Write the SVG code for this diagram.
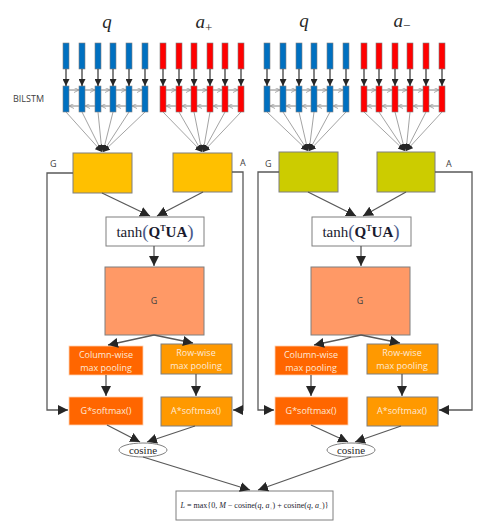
<svg xmlns="http://www.w3.org/2000/svg" width="500" height="526" viewBox="0 0 500 526">
<defs>
<marker id="ah" markerUnits="userSpaceOnUse" markerWidth="10" markerHeight="10" viewBox="0 0 10 10" refX="10" refY="5" orient="auto">
<path d="M0,0 L10,5 L0,10 z" fill="#262626"/>
</marker>
<marker id="sm" markerUnits="userSpaceOnUse" markerWidth="5" markerHeight="5" viewBox="0 0 10 10" refX="10" refY="5" orient="auto">
<path d="M0,0 L10,5 L0,10" fill="none" stroke="#909090" stroke-width="1.5"/>
</marker>
<marker id="fa" markerUnits="userSpaceOnUse" markerWidth="7" markerHeight="7" viewBox="0 0 10 10" refX="10" refY="5" orient="auto">
<path d="M0,0 L10,5 L0,10 z" fill="#262626"/>
</marker>
</defs>
<style>
.bc{fill:#0070C0;stroke:#7f7f7f;stroke-width:0.6}
.rc{fill:#FF0000;stroke:#7f7f7f;stroke-width:0.6}
.dn{stroke:#404040;stroke-width:1.3;fill:none;marker-end:url(#fa)}
.hl{stroke:#a0a0a0;stroke-width:0.8;fill:none}
.hr{stroke:#a0a0a0;stroke-width:0.8;fill:none;marker-end:url(#sm)}
.fan{stroke:#8c8c8c;stroke-width:0.8;fill:none;marker-end:url(#fa)}
.cn{stroke:#595959;stroke-width:1.3;fill:none;marker-end:url(#ah)}
.sans{font-family:"Open Sans","Liberation Sans",sans-serif}
.serif{font-family:"Liberation Serif","DejaVu Serif",serif}
.lab{font-size:9px;fill:#404040}
.wt{font-size:9px;fill:#FDE9D9;text-anchor:middle}
.yb{fill:#FFC000;stroke:#7f7f7f;stroke-width:1}
.ob{fill:#CCCC00;stroke:#7f7f7f;stroke-width:1}
.gb{fill:#FF9966;stroke:#7f7f7f;stroke-width:1}
.cw{fill:#FF6600;stroke:#FFD0B0;stroke-width:0.8}
.rw{fill:#FF9900;stroke:#7f7f7f;stroke-width:1}
</style>
<rect width="500" height="526" fill="#ffffff"/>

<g id="labels">
<text class="serif" x="107" y="28" font-size="19" font-style="italic" text-anchor="middle" fill="#262626">q</text>
<text class="serif" x="204" y="28" font-size="19" font-style="italic" text-anchor="middle" fill="#262626">a<tspan font-size="13" dy="4" font-style="normal">+</tspan></text>
<text class="serif" x="304" y="27" font-size="19" font-style="italic" text-anchor="middle" fill="#262626">q</text>
<text class="serif" x="402" y="27" font-size="19" font-style="italic" text-anchor="middle" fill="#262626">a<tspan font-size="13" dy="3" font-style="normal">−</tspan></text>
<text class="sans lab" x="13" y="102">BILSTM</text>
</g>

<g id="connectors-recurrent-base">
<path class="hl" d="M66,90H145M66,106H145M163,90H241M163,106H241M267,90H346M267,106H346M364,90H442M364,106H442"/>
</g>

<g id="bilstm-q1">
<rect class="bc" x="63" y="43" width="6" height="26"/><rect class="bc" x="79" y="43" width="6" height="26"/><rect class="bc" x="95" y="43" width="6" height="26"/><rect class="bc" x="110" y="43" width="6" height="26"/><rect class="bc" x="126" y="43" width="6" height="26"/><rect class="bc" x="142" y="43" width="6" height="26"/>
<rect class="bc" x="63" y="86" width="6" height="26"/><rect class="bc" x="79" y="86" width="6" height="26"/><rect class="bc" x="95" y="86" width="6" height="26"/><rect class="bc" x="110" y="86" width="6" height="26"/><rect class="bc" x="126" y="86" width="6" height="26"/><rect class="bc" x="142" y="86" width="6" height="26"/>
</g>
<g id="bilstm-a1">
<rect class="rc" x="160" y="43" width="6" height="26"/><rect class="rc" x="176" y="43" width="6" height="26"/><rect class="rc" x="191" y="43" width="6" height="26"/><rect class="rc" x="207" y="43" width="6" height="26"/><rect class="rc" x="222" y="43" width="6" height="26"/><rect class="rc" x="238" y="43" width="6" height="26"/>
<rect class="rc" x="160" y="86" width="6" height="26"/><rect class="rc" x="176" y="86" width="6" height="26"/><rect class="rc" x="191" y="86" width="6" height="26"/><rect class="rc" x="207" y="86" width="6" height="26"/><rect class="rc" x="222" y="86" width="6" height="26"/><rect class="rc" x="238" y="86" width="6" height="26"/>
</g>
<g id="bilstm-q2">
<rect class="bc" x="264" y="43" width="6" height="26"/><rect class="bc" x="280" y="43" width="6" height="26"/><rect class="bc" x="296" y="43" width="6" height="26"/><rect class="bc" x="311" y="43" width="6" height="26"/><rect class="bc" x="327" y="43" width="6" height="26"/><rect class="bc" x="343" y="43" width="6" height="26"/>
<rect class="bc" x="264" y="86" width="6" height="26"/><rect class="bc" x="280" y="86" width="6" height="26"/><rect class="bc" x="296" y="86" width="6" height="26"/><rect class="bc" x="311" y="86" width="6" height="26"/><rect class="bc" x="327" y="86" width="6" height="26"/><rect class="bc" x="343" y="86" width="6" height="26"/>
</g>
<g id="bilstm-a2">
<rect class="rc" x="361" y="43" width="6" height="26"/><rect class="rc" x="376" y="43" width="6" height="26"/><rect class="rc" x="392" y="43" width="6" height="26"/><rect class="rc" x="407" y="43" width="6" height="26"/><rect class="rc" x="423" y="43" width="6" height="26"/><rect class="rc" x="439" y="43" width="6" height="26"/>
<rect class="rc" x="361" y="86" width="6" height="26"/><rect class="rc" x="376" y="86" width="6" height="26"/><rect class="rc" x="392" y="86" width="6" height="26"/><rect class="rc" x="407" y="86" width="6" height="26"/><rect class="rc" x="423" y="86" width="6" height="26"/><rect class="rc" x="439" y="86" width="6" height="26"/>
</g>

<g id="box-G1"><rect class="yb" x="73" y="153" width="59" height="40"/></g>
<g id="box-A1"><rect class="yb" x="173" y="153" width="59" height="39"/></g>
<g id="box-G2"><rect class="ob" x="279" y="152" width="59" height="40"/></g>
<g id="box-A2"><rect class="ob" x="377" y="152" width="58" height="40"/></g>
<g id="side-labels" class="sans lab">
<text x="50" y="167">G</text><text x="240" y="166">A</text>
<text x="265" y="167">G</text><text x="446" y="167">A</text>
</g>

<g id="tanh1"><rect x="106" y="217" width="98" height="29" fill="#fff" stroke="#7f7f7f"/>
<text class="serif" x="155" y="237" font-size="15" text-anchor="middle" fill="#1a1a2e">tanh<tspan font-size="19" fill="#4a5a8a" dy="1">(</tspan><tspan font-weight="bold" dy="-1">Q</tspan><tspan font-size="8" font-weight="bold" dy="-6">T</tspan><tspan font-weight="bold" dy="6">UA</tspan><tspan font-size="19" fill="#4a5a8a" dy="1">)</tspan></text></g>
<g id="tanh2"><rect x="312" y="217" width="99" height="29" fill="#fff" stroke="#7f7f7f"/>
<text class="serif" x="361" y="237" font-size="15" text-anchor="middle" fill="#1a1a2e">tanh<tspan font-size="19" fill="#4a5a8a" dy="1">(</tspan><tspan font-weight="bold" dy="-1">Q</tspan><tspan font-size="8" font-weight="bold" dy="-6">T</tspan><tspan font-weight="bold" dy="6">UA</tspan><tspan font-size="19" fill="#4a5a8a" dy="1">)</tspan></text></g>

<g id="G-mat1"><rect class="gb" x="105" y="267" width="99" height="68"/><text class="sans lab" x="154" y="304" text-anchor="middle">G</text></g>
<g id="G-mat2"><rect class="gb" x="311" y="267" width="99" height="68"/><text class="sans lab" x="360" y="304" text-anchor="middle">G</text></g>

<g id="colpool1"><rect class="cw" x="69" y="346" width="74" height="29"/><text class="sans wt" x="106" y="358">Column-wise</text><text class="sans wt" x="106" y="371">max pooling</text></g>
<g id="rowpool1"><rect class="rw" x="161" y="344" width="71" height="30"/><text class="sans wt" x="196" y="356">Row-wise</text><text class="sans wt" x="196" y="369">max pooling</text></g>
<g id="colpool2"><rect class="cw" x="275" y="346" width="73" height="29"/><text class="sans wt" x="311" y="358">Column-wise</text><text class="sans wt" x="311" y="371">max pooling</text></g>
<g id="rowpool2"><rect class="rw" x="367" y="344" width="71" height="30"/><text class="sans wt" x="402" y="356">Row-wise</text><text class="sans wt" x="402" y="369">max pooling</text></g>

<g id="gsoft1"><rect class="cw" x="69" y="397" width="74" height="28"/><text class="sans wt" x="106" y="414" font-size="10">G*softmax()</text></g>
<g id="asoft1"><rect class="rw" x="161" y="397" width="71" height="29"/><text class="sans wt" x="196" y="414" font-size="10">A*softmax()</text></g>
<g id="gsoft2"><rect class="cw" x="275" y="397" width="73" height="28"/><text class="sans wt" x="311" y="414" font-size="10">G*softmax()</text></g>
<g id="asoft2"><rect class="rw" x="367" y="397" width="71" height="29"/><text class="sans wt" x="402" y="414" font-size="10">A*softmax()</text></g>

<g id="cosine1"><ellipse cx="143" cy="450" rx="24" ry="7" fill="#fff" stroke="#7f7f7f"/><text class="serif" x="143" y="454" font-size="11" text-anchor="middle" fill="#262626">cosine</text></g>
<g id="cosine2"><ellipse cx="351" cy="450" rx="24" ry="7" fill="#fff" stroke="#7f7f7f"/><text class="serif" x="351" y="454" font-size="11" text-anchor="middle" fill="#262626">cosine</text></g>

<g id="loss"><rect x="176" y="491" width="157" height="29" fill="#fff" stroke="#7f7f7f"/>
<text class="serif" x="254.5" y="508" font-size="7.5" text-anchor="middle" fill="#1a1a2e" textLength="148" lengthAdjust="spacingAndGlyphs"><tspan font-style="italic">L</tspan> = max{0, <tspan font-style="italic">M</tspan> − cosine(<tspan font-style="italic">q</tspan>, <tspan font-style="italic">a</tspan><tspan font-size="5" dy="2">+</tspan><tspan dy="-2">) + cosine(</tspan><tspan font-style="italic">q</tspan>, <tspan font-style="italic">a</tspan><tspan font-size="5" dy="2">−</tspan><tspan dy="-2">)}</tspan></text></g>

<g id="connectors">
<g id="inputs">
<line class="dn" x1="66" y1="69" x2="66" y2="86"/><line class="dn" x1="82" y1="69" x2="82" y2="86"/><line class="dn" x1="98" y1="69" x2="98" y2="86"/><line class="dn" x1="113" y1="69" x2="113" y2="86"/><line class="dn" x1="129" y1="69" x2="129" y2="86"/><line class="dn" x1="145" y1="69" x2="145" y2="86"/>
<line class="dn" x1="163" y1="69" x2="163" y2="86"/><line class="dn" x1="179" y1="69" x2="179" y2="86"/><line class="dn" x1="194" y1="69" x2="194" y2="86"/><line class="dn" x1="210" y1="69" x2="210" y2="86"/><line class="dn" x1="225" y1="69" x2="225" y2="86"/><line class="dn" x1="241" y1="69" x2="241" y2="86"/>
<line class="dn" x1="267" y1="69" x2="267" y2="86"/><line class="dn" x1="283" y1="69" x2="283" y2="86"/><line class="dn" x1="299" y1="69" x2="299" y2="86"/><line class="dn" x1="314" y1="69" x2="314" y2="86"/><line class="dn" x1="330" y1="69" x2="330" y2="86"/><line class="dn" x1="346" y1="69" x2="346" y2="86"/>
<line class="dn" x1="364" y1="69" x2="364" y2="86"/><line class="dn" x1="379" y1="69" x2="379" y2="86"/><line class="dn" x1="395" y1="69" x2="395" y2="86"/><line class="dn" x1="410" y1="69" x2="410" y2="86"/><line class="dn" x1="426" y1="69" x2="426" y2="86"/><line class="dn" x1="442" y1="69" x2="442" y2="86"/>
</g>
<g id="recurrent">
<line class="hr" x1="69" y1="90" x2="79" y2="90"/><line class="hr" x1="85" y1="90" x2="95" y2="90"/><line class="hr" x1="101" y1="90" x2="110" y2="90"/><line class="hr" x1="116" y1="90" x2="126" y2="90"/><line class="hr" x1="132" y1="90" x2="142" y2="90"/>
<line class="hr" x1="79" y1="106" x2="69" y2="106"/><line class="hr" x1="95" y1="106" x2="85" y2="106"/><line class="hr" x1="110" y1="106" x2="101" y2="106"/><line class="hr" x1="126" y1="106" x2="116" y2="106"/><line class="hr" x1="142" y1="106" x2="132" y2="106"/>
<line class="hr" x1="166" y1="90" x2="176" y2="90"/><line class="hr" x1="182" y1="90" x2="191" y2="90"/><line class="hr" x1="197" y1="90" x2="207" y2="90"/><line class="hr" x1="213" y1="90" x2="222" y2="90"/><line class="hr" x1="228" y1="90" x2="238" y2="90"/>
<line class="hr" x1="176" y1="106" x2="166" y2="106"/><line class="hr" x1="191" y1="106" x2="182" y2="106"/><line class="hr" x1="207" y1="106" x2="197" y2="106"/><line class="hr" x1="222" y1="106" x2="213" y2="106"/><line class="hr" x1="238" y1="106" x2="228" y2="106"/>
<line class="hr" x1="270" y1="90" x2="280" y2="90"/><line class="hr" x1="286" y1="90" x2="296" y2="90"/><line class="hr" x1="302" y1="90" x2="311" y2="90"/><line class="hr" x1="317" y1="90" x2="327" y2="90"/><line class="hr" x1="333" y1="90" x2="343" y2="90"/>
<line class="hr" x1="280" y1="106" x2="270" y2="106"/><line class="hr" x1="296" y1="106" x2="286" y2="106"/><line class="hr" x1="311" y1="106" x2="302" y2="106"/><line class="hr" x1="327" y1="106" x2="317" y2="106"/><line class="hr" x1="343" y1="106" x2="333" y2="106"/>
<line class="hr" x1="367" y1="90" x2="376" y2="90"/><line class="hr" x1="382" y1="90" x2="392" y2="90"/><line class="hr" x1="398" y1="90" x2="407" y2="90"/><line class="hr" x1="413" y1="90" x2="423" y2="90"/><line class="hr" x1="429" y1="90" x2="439" y2="90"/>
<line class="hr" x1="376" y1="106" x2="367" y2="106"/><line class="hr" x1="392" y1="106" x2="382" y2="106"/><line class="hr" x1="407" y1="106" x2="398" y2="106"/><line class="hr" x1="423" y1="106" x2="413" y2="106"/><line class="hr" x1="439" y1="106" x2="429" y2="106"/>
</g>
<g id="fans">
<path class="fan" d="M66,112L102,152"/><path class="fan" d="M82,112L102,152"/><path class="fan" d="M98,112L102,152"/><path class="fan" d="M113,112L103,152"/><path class="fan" d="M129,112L103,152"/><path class="fan" d="M145,112L103,152"/>
<path class="fan" d="M163,112L202,152"/><path class="fan" d="M179,112L202,152"/><path class="fan" d="M194,112L202,152"/><path class="fan" d="M210,112L203,152"/><path class="fan" d="M225,112L203,152"/><path class="fan" d="M241,112L203,152"/>
<path class="fan" d="M267,112L308,151"/><path class="fan" d="M283,112L308,151"/><path class="fan" d="M299,112L308,151"/><path class="fan" d="M314,112L309,151"/><path class="fan" d="M330,112L309,151"/><path class="fan" d="M346,112L309,151"/>
<path class="fan" d="M364,112L405,151"/><path class="fan" d="M379,112L405,151"/><path class="fan" d="M395,112L405,151"/><path class="fan" d="M410,112L406,151"/><path class="fan" d="M426,112L406,151"/><path class="fan" d="M442,112L406,151"/>
</g>
<g id="left-flow">
<path class="cn" d="M102,193L150,216"/>
<path class="cn" d="M203,192L157,216"/>
<path class="cn" d="M154,246V266"/>
<path class="cn" d="M154,335L108,345"/>
<path class="cn" d="M154,335L193,343"/>
<path class="cn" d="M106,375V396"/>
<path class="cn" d="M196,374V396"/>
<path class="cn" d="M73,173H47V410H68"/>
<path class="cn" d="M232,172H243V410H233"/>
<path class="cn" d="M107,425L140,442"/>
<path class="cn" d="M195,426L147,442"/>
</g>
<g id="right-flow">
<path class="cn" d="M308,192L356,216"/>
<path class="cn" d="M406,192L363,216"/>
<path class="cn" d="M361,246V266"/>
<path class="cn" d="M361,335L314,345"/>
<path class="cn" d="M361,335L400,343"/>
<path class="cn" d="M311,375V396"/>
<path class="cn" d="M402,374V396"/>
<path class="cn" d="M279,172H258V410H274"/>
<path class="cn" d="M435,172H472V410H439"/>
<path class="cn" d="M311,425L348,442"/>
<path class="cn" d="M401,426L355,442"/>
</g>
<g id="to-loss">
<path class="cn" d="M143,457L250,490"/>
<path class="cn" d="M351,457L258,490"/>
</g>
</g>
</svg>
